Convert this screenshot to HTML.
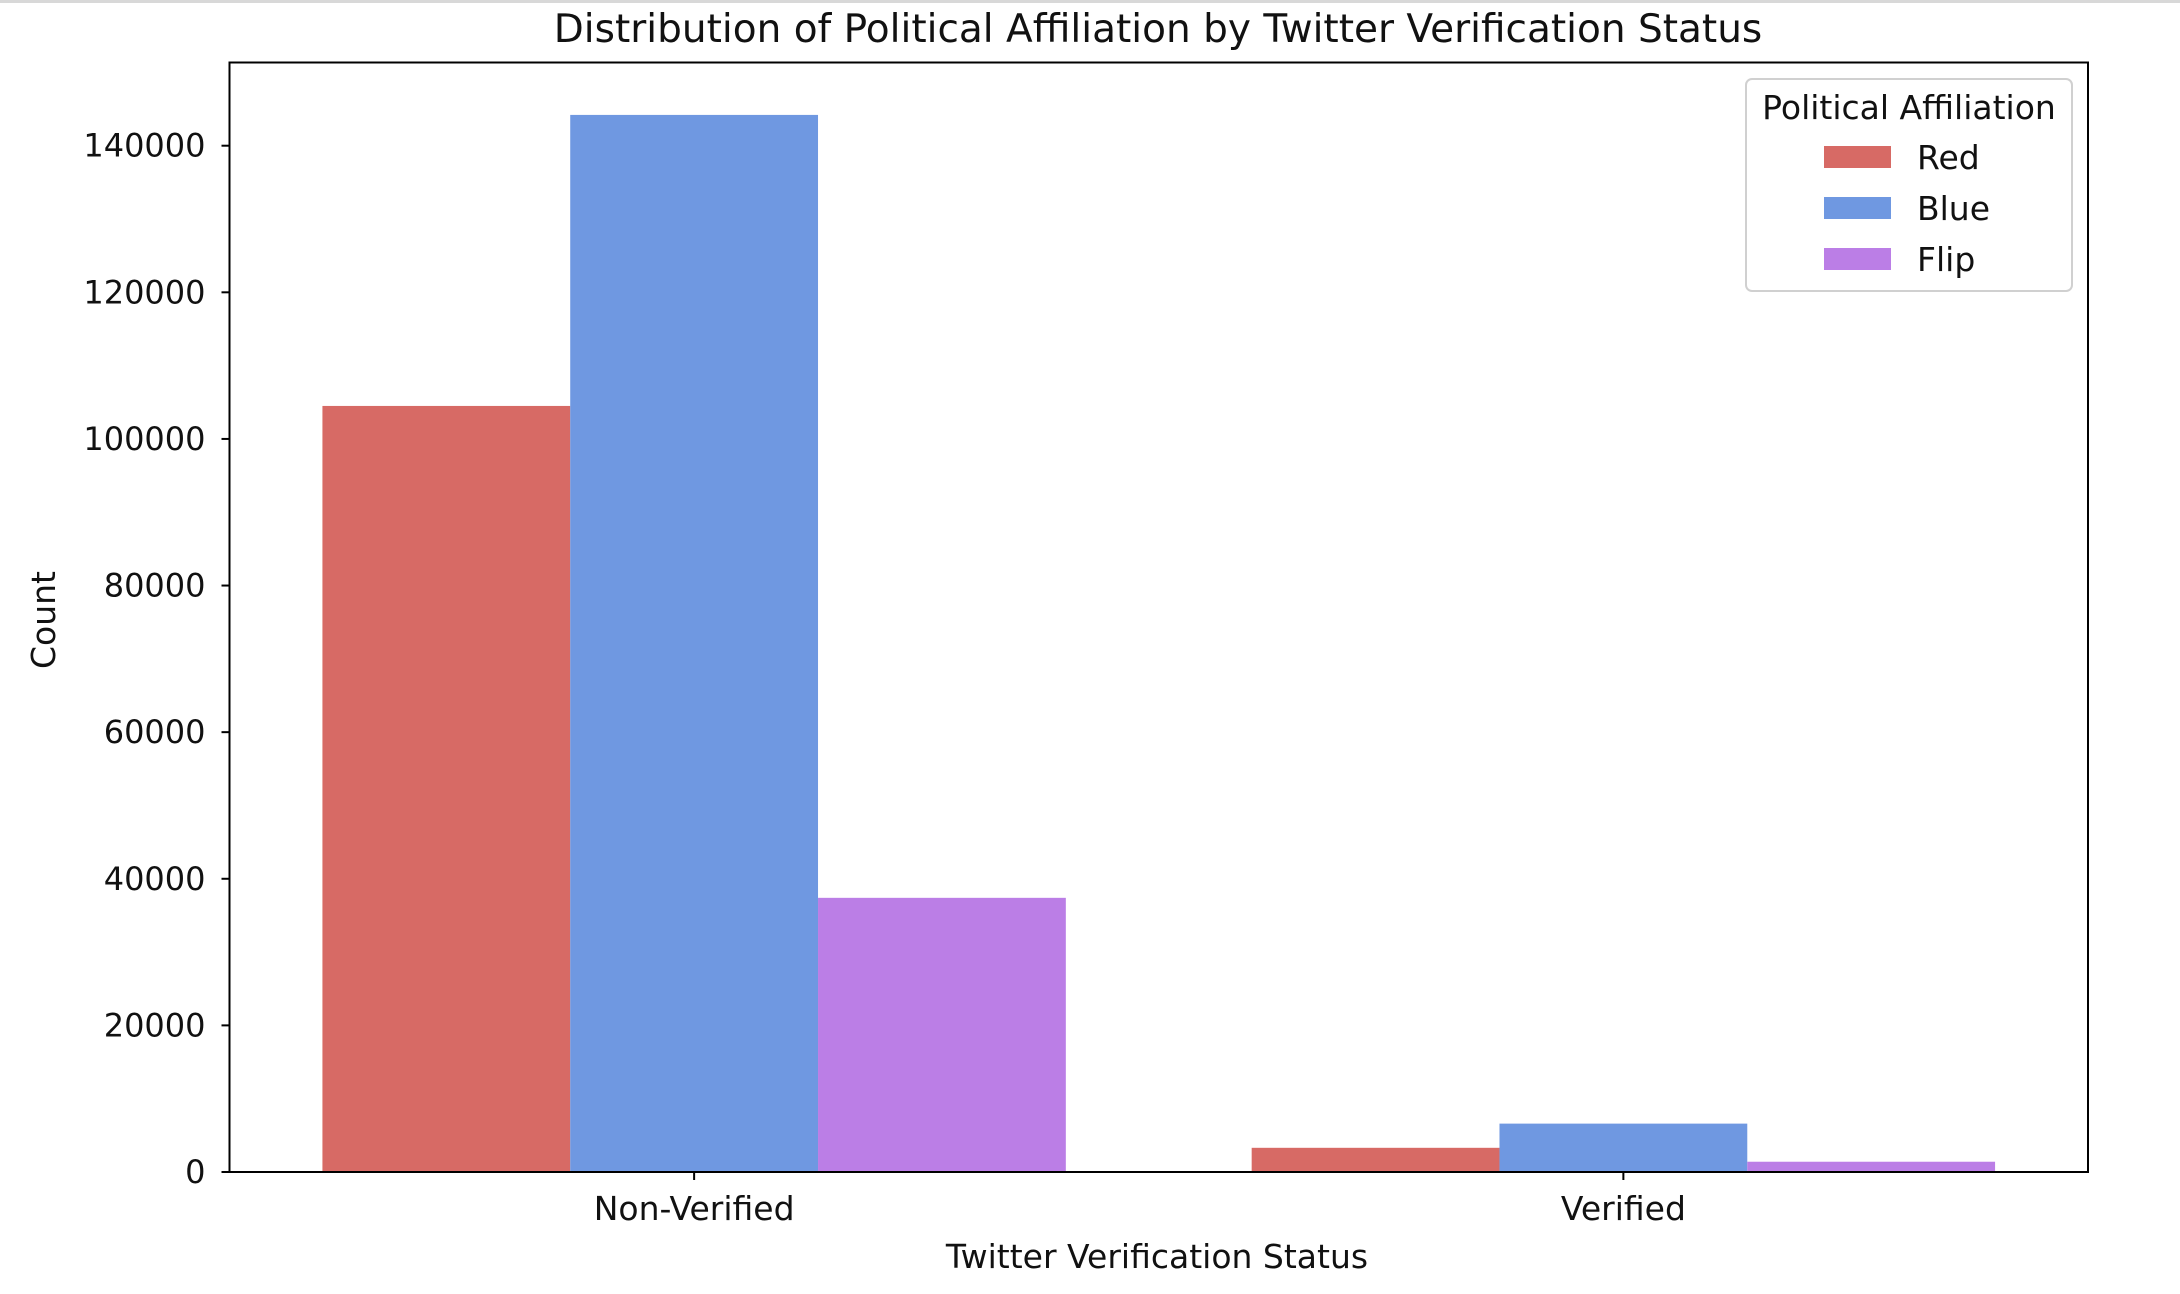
<!DOCTYPE html>
<html><head><meta charset="utf-8"><style>
html,body{margin:0;padding:0;background:#fff;}
svg{display:block;font-family:"DejaVu Sans","Liberation Sans",sans-serif;}
</style></head><body>
<svg id="chart" width="2180" height="1294" viewBox="0 0 2180 1294" xmlns="http://www.w3.org/2000/svg">
<rect x="0" y="0" width="2180" height="3" fill="#d8d8d8"/>
<text x="1158" y="42" font-size="39" text-anchor="middle" fill="#111">Distribution of Political Affiliation by Twitter Verification Status</text>
<g id="bars"></g>
<g id="yaxis"></g>
<g id="xaxis"></g>
<rect x="229.5" y="62.5" width="1858.5" height="1109.5" fill="none" stroke="#000" stroke-width="2"/>
<text x="1157" y="1268" font-size="33" text-anchor="middle" fill="#111">Twitter Verification Status</text>
<text transform="translate(55,620) rotate(-90)" font-size="33" text-anchor="middle" fill="#111">Count</text>
<g id="legend">
<rect x="1746" y="79" width="326" height="212" rx="6" fill="#fff" stroke="#d0d0d0" stroke-width="2"/>
<text x="1909" y="119" font-size="33" text-anchor="middle" fill="#111">Political Affiliation</text>
</g>
</svg>
<script>
const categories = ["Non-Verified", "Verified"];
const seriesNames = ["Red", "Blue", "Flip"];
const redValues = [104500, 3300];
const blueValues = [144200, 6600];
const flipValues = [37400, 1400];
const yTicks = [0, 20000, 40000, 60000, 80000, 100000, 120000, 140000];
const colors = ["#d76a65", "#6f98e1", "#bb7ee6"];

const NS = "http://www.w3.org/2000/svg";
const L = 229.5, R = 2088, T = 62.5, B = 1172;
const yMax = 151350;
const xScale = v => L + (v + 0.5) / 2 * (R - L);
const yScale = v => B - v / yMax * (B - T);
function mk(tag, attrs, parent, text) {
  const e = document.createElementNS(NS, tag);
  for (const k in attrs) e.setAttribute(k, attrs[k]);
  if (text !== undefined) e.textContent = text;
  parent.appendChild(e);
  return e;
}
const series = [redValues, blueValues, flipValues];
const bars = document.getElementById("bars");
const bw = 0.8 / 3;
series.forEach((vals, s) => {
  vals.forEach((v, c) => {
    const x0 = xScale(c - 0.4 + s * bw), x1 = xScale(c - 0.4 + (s + 1) * bw);
    const r = mk("rect", {x: x0, y: yScale(v), width: x1 - x0, height: B - yScale(v), fill: colors[s]}, bars);
    
    
  });
});
const ya = document.getElementById("yaxis");
yTicks.forEach(t => {
  const y = yScale(t);
  const l = mk("line", {x1: L - 8, x2: L, y1: y, y2: y, stroke: "#000", "stroke-width": 2}, ya);
  
  
  const tx = mk("text", {x: L - 24, y: y + 11, "font-size": 32, "text-anchor": "end", fill: "#111"}, ya, String(t));
  
  
});
const xa = document.getElementById("xaxis");
categories.forEach((c, i) => {
  const x = xScale(i);
  const l = mk("line", {x1: x, x2: x, y1: B, y2: B + 8, stroke: "#000", "stroke-width": 2}, xa);
  
  
  const tx = mk("text", {x: x, y: 1220, "font-size": 33, "text-anchor": "middle", fill: "#111"}, xa, c);
  
  
});
const lg = document.getElementById("legend");
seriesNames.forEach((n, i) => {
  const y = 157 + i * 51;
  const p = mk("rect", {x: 1824, y: y - 11, width: 67, height: 22, fill: colors[i]}, lg);
  
  
  const t = mk("text", {x: 1917, y: y + 12, "font-size": 33, fill: "#111"}, lg, n);
  
  
});
</script>
</body></html>
